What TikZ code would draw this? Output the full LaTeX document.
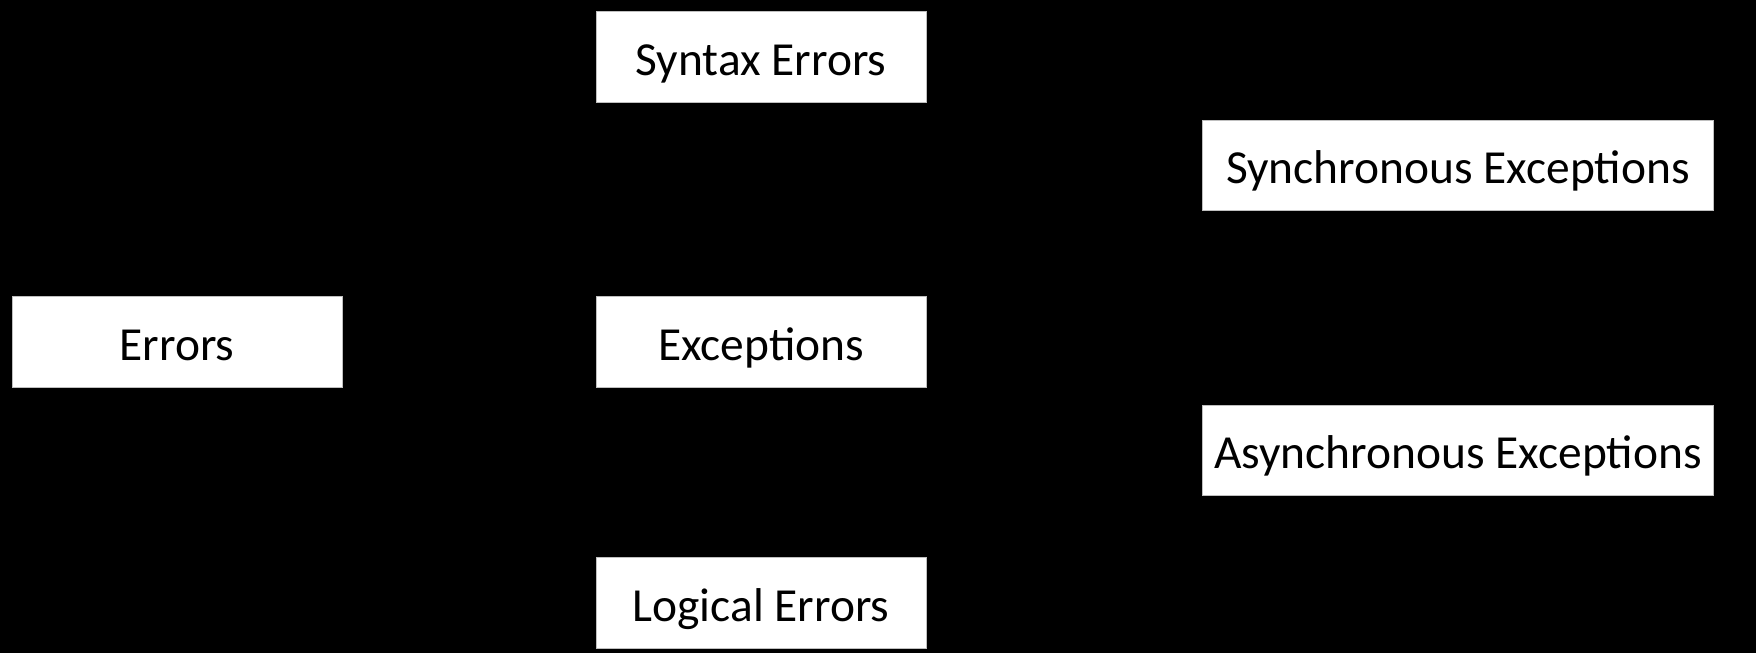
\documentclass[tikz,border=0pt]{standalone}
\usepackage{fontspec}
\setmainfont{Carlito}

\begin{document}
\begin{tikzpicture}[x=0.02cm,y=-0.02cm,
  errbox/.style={shape=rectangle, fill=white, draw=white!75!black, line width=0.4pt,
    minimum width=6.6cm, minimum height=1.82cm, inner sep=0pt,
    text height=21pt, text depth=0pt,
    font=\fontsize{27}{32}\selectfont},
  widebox/.style={errbox, minimum width=10.22cm, minimum height=1.8cm}]

% black ground, fixes the size
\path[fill=black] (0,0) rectangle (1756,653);

\path (177,342) node (Err) [errbox] {Errors};
\path (761,57) node (Syn) [errbox] {Syntax Errors};
\path (761,342) node (Exc) [errbox] {Exceptions};
\path (761,603) node (Log) [errbox] {Logical Errors};
\path (1458,165) node (Sync) [widebox] {Synchronous Exceptions};
\path (1458,450) node (Async) [widebox] {Asynchronous Exceptions};

\end{tikzpicture}
\end{document}
